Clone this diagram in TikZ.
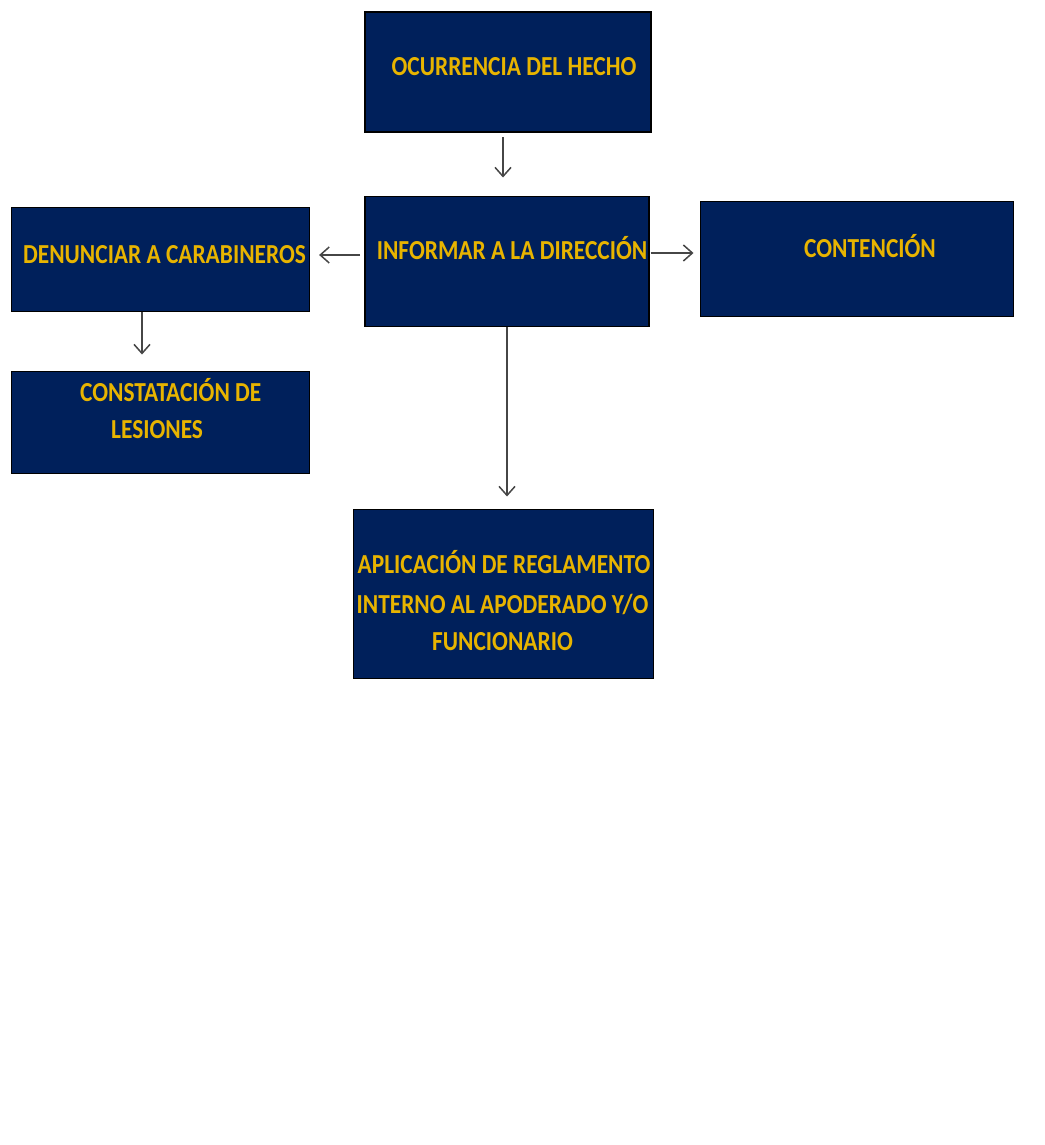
\documentclass[tikz,border=0pt]{standalone}
\usepackage{fontspec}
\setmainfont{Carlito}[FakeStretch=0.85]
\usetikzlibrary{arrows.meta,positioning}
\definecolor{boxnavy}{RGB}{0,32,91}
\definecolor{boxgold}{RGB}{232,180,0}
\definecolor{arrgray}{RGB}{70,70,70}
\begin{document}
\begin{tikzpicture}[x=1pt,y=-1pt,
  box/.style={draw=black,line width=1.6pt,fill=boxnavy,inner sep=0pt,anchor=north west},
  lbl/.style={text=boxgold,font=\fontsize{27.5}{38.5}\selectfont\bfseries,inner sep=0pt,anchor=base,align=center},
  arr/.style={draw=arrgray,line width=1.5pt,-{Straight Barb[length=9pt,width=16pt,line width=1.5pt]}}]
\useasboundingbox[fill=white] (0,0) rectangle (1044,1145);
% boxes
\node[box,minimum width=286pt,minimum height=120pt] (ocu) at (364,11.5) {};
\node[box,minimum width=284pt,minimum height=130pt] (inf) at (364,195.5) {};
\node[box,minimum width=298pt,minimum height=104pt] (den) at (10.5,206.5) {};
\node[box,minimum width=298pt,minimum height=102pt] (con) at (10.5,370.5) {};
\node[box,minimum width=313pt,minimum height=115pt] (cnt) at (699.5,200.5) {};
\node[box,minimum width=300pt,minimum height=169pt] (apl) at (352.5,508.5) {};
% texts
\node[lbl] (tocu) at (514,76) {OCURRENCIA DEL HECHO};
\node[lbl] (tinf) at (512,259) {INFORMAR A LA DIRECCIÓN};
\node[lbl] (tden) at (164.5,263) {DENUNCIAR A CARABINEROS};
\node[lbl,anchor=base west] (tcon1) at (80,401) {CONSTATACIÓN DE};
\node[lbl,anchor=base west] (tcon2) at (111,438) {LESIONES};
\node[lbl] (tcnt) at (870,257) {CONTENCIÓN};
\node[lbl] (tapl1) at (504,573) {APLICACIÓN DE REGLAMENTO};
\node[lbl] (tapl2) at (502.5,613) {INTERNO AL APODERADO Y/O};
\node[lbl] (tapl3) at (502.5,650) {FUNCIONARIO};
% connectors
\draw[arr] (ocu.south -| 503,0) ++(0,4) -- ([yshift=18pt]inf.north -| 503,0);
\draw[arr] ([xshift=-4pt]inf.west |- 0,255) -- ([xshift=9pt]den.east |- 0,255);
\draw[arr] ([xshift=1pt]inf.east |- 0,253) -- ([xshift=-6pt]cnt.west |- 0,253);
\draw[arr] (den.south -| 142,0) -- ([yshift=16pt]con.north -| 142,0);
\draw[arr] (inf.south -| 507,0) -- ([yshift=12pt]apl.north -| 507,0);
\end{tikzpicture}
\end{document}
